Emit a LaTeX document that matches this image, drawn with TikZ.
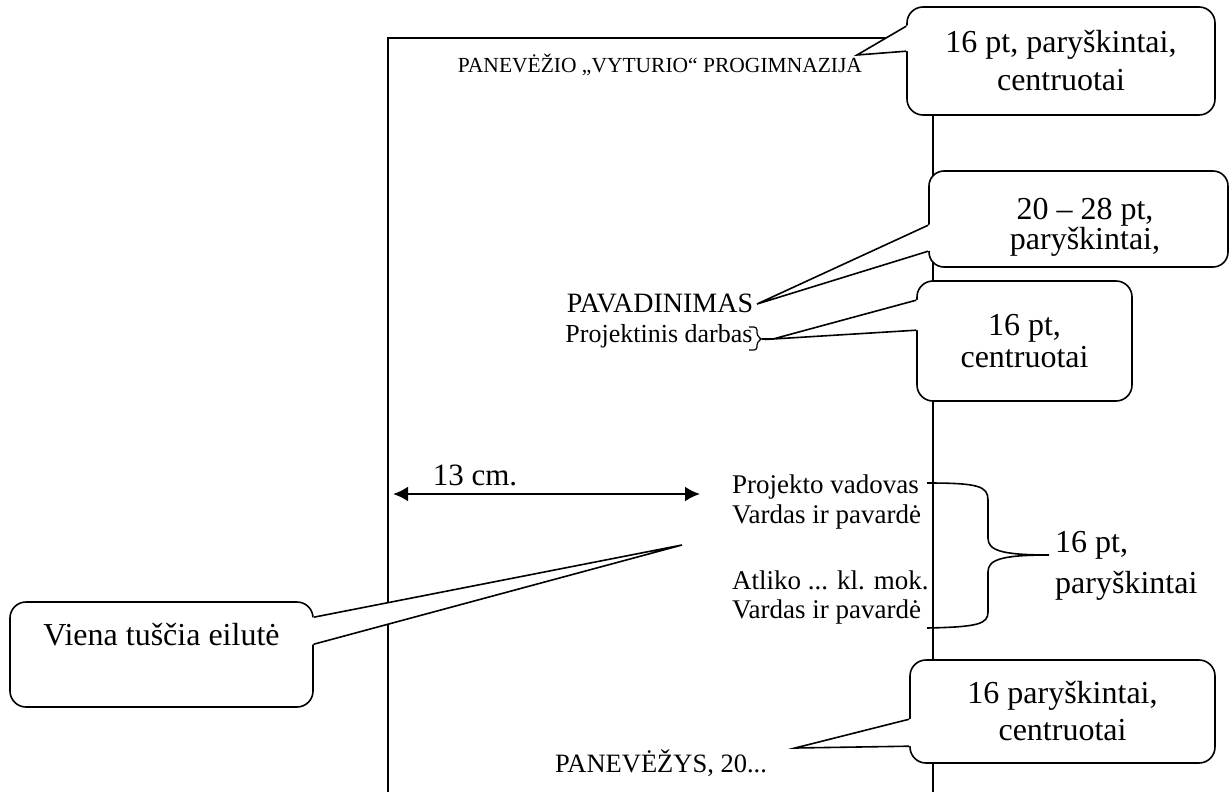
\documentclass[tikz,border=0pt]{standalone}
\usepackage{fontspec}
\setmainfont{Liberation Serif}
\usetikzlibrary{arrows.meta,calc}

\newcommand{\fntcap}{\fontsize{21.5}{25}\selectfont}
\newcommand{\fnttext}{\fontsize{27}{30}\selectfont}
\newcommand{\fntnote}{\fontsize{32}{37}\selectfont}

% tail of a callout: box anchor, tip, two offsets down the box side
\newcommand{\notetail}[4]{%
  \coordinate (tailA) at ($(#1)+(0,#3)$);
  \coordinate (tailB) at ($(#1)+(0,#4)$);
  \fill[white] ($(tailA)!-3pt!(#2)$) -- (#2) -- ($(tailB)!-3pt!(#2)$) -- cycle;
  \draw[noteline] (tailA) -- (#2) -- (tailB);}

\begin{document}
\begin{tikzpicture}[
  x=1pt, y=-1pt,
  page/.style={line width=1.4pt},
  note/.style={rectangle, draw, rounded corners=16pt, fill=white, line width=1.6pt, inner sep=0pt, align=center, font=\fntnote},
  noteline/.style={line width=1.6pt, line join=miter},
  arr/.style={{Latex[length=15pt,width=15pt]}-{Latex[length=15pt,width=15pt]}, line width=2.4pt},
  lbl/.style={inner sep=0pt, font=\fnttext}
  ]
  \useasboundingbox (0,0) rectangle (1231,792);
  % page edges
  \draw[page] (388,792) -- (388,38) -- (933,38) -- (933,792);

  % title page text
  \node[lbl, font=\fntcap, anchor=base] (school) at (660,72) {PANEVĖŽIO „VYTURIO“ PROGIMNAZIJA};
  \node[lbl, font={\fontsize{28}{30}\selectfont}, anchor=base] (title) at (660,312) {PAVADINIMAS};
  \node[lbl, font={\fontsize{26}{30}\selectfont}, anchor=base] (kind) at (659,342) {Projektinis darbas};
  \node[lbl, anchor=base west] (lead) at (732,493) {Projekto vadovas};
  \node[lbl, anchor=base west] (leadname) at (732,523) {Vardas ir pavardė};
  \node[lbl, anchor=base west] (pupil) at (732,589) {Atliko ... kl. mok.};
  \node[lbl, anchor=base west] (pupilname) at (732,618) {Vardas ir pavardė};
  \node[lbl, font={\fontsize{26.5}{30}\selectfont}, anchor=base] (city) at (661,772) {PANEVĖŽYS, 20...};

  % margin width
  \coordinate (dimL) at (393,494);
  \coordinate (dimR) at (700,494);
  \draw[arr] (dimL) -- (dimR);
  \node[lbl, font={\fontsize{31}{36}\selectfont}, anchor=base] (dimlbl) at (475,485) {13 cm.};

  % small bracket after the subtitle
  \coordinate (kindtop) at (749,327);
  \coordinate (kindbot) at (749,350);
  \coordinate (kindtip) at (773,339);
  \draw[line width=1.2pt, rounded corners=3pt] (kindtop) -- (757,327) -- (757,336) -- (762,339) -- (757,342) -- (757,350) -- (kindbot);
  \draw[line width=1.2pt] (762,339) -- (kindtip);

  % big brace over the names
  \coordinate (brtop) at (927,483);
  \coordinate (brbot) at (927,628);
  \coordinate (brtip) at (1049,555);
  \draw[noteline] (brtop) .. controls (978,483) and (988,486) .. (988,500) -- (988,538)
    .. controls (988,550) and (1000,555) .. (brtip)
    .. controls (1000,555) and (988,560) .. (988,572) -- (988,612)
    .. controls (988,624) and (978,627) .. (brbot);
  \node[lbl, font={\fontsize{32}{41}\selectfont}, anchor=north west, align=left] (names) at (1055,531) {16 pt,\\paryškintai};

  % callouts
  \node[note, font={\fontsize{32}{38}\selectfont}, minimum width=308pt, minimum height=108pt] (capnote) at (1061,61) {16 pt, paryškintai,\\centruotai};
  \node[note, rounded corners=15pt, minimum width=299pt, minimum height=96pt] (titlenote) at (1078.5,219) {};
  \node[lbl, font={\fontsize{32}{28}\selectfont}, anchor=north, align=center] (titletext) at (1085,198) {20 – 28 pt,\\paryškintai,};
  \node[note, font={\fontsize{32}{32}\selectfont}, minimum width=215pt, minimum height=120pt] (kindnote) at (1024.5,341) {16 pt,\\centruotai};
  \node[note, minimum width=303pt, minimum height=105pt, text height=22pt, text depth=41pt] (blanknote) at (161.5,654.5) {Viena tuščia eilutė};
  \node[note, minimum width=305pt, minimum height=103pt] (citynote) at (1062.5,711.5) {16 paryškintai,\\centruotai};

  % callout tails
  \coordinate (tipcap) at (857,55);
  \coordinate (tiptitle) at (757,304);
  \coordinate (tipblank) at (682,545);
  \coordinate (tipcity) at (795,748);
  \notetail{capnote.north west}{tipcap}{20}{45}
  \notetail{titlenote.north west}{tiptitle}{55}{81}
  \notetail{kindnote.north west}{kindtip}{20}{50}
  \notetail{blanknote.north east}{tipblank}{16}{43}
  \notetail{citynote.north west}{tipcity}{60}{87}
\end{tikzpicture}
\end{document}
